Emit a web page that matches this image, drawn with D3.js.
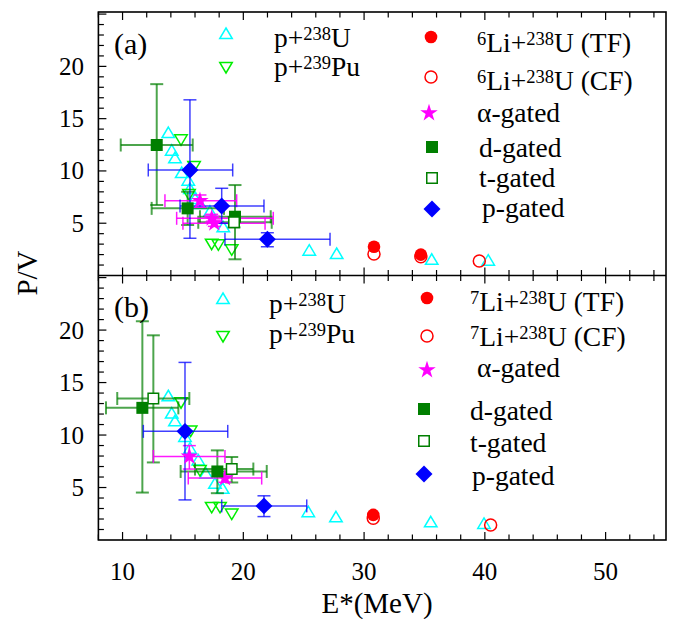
<!DOCTYPE html>
<html><head><meta charset="utf-8">
<script src="https://cdn.jsdelivr.net/npm/d3@7"></script>
<style>
body{margin:0;background:#fff}
svg{display:block}
svg text, svg tspan{font-family:"Liberation Serif","Times New Roman",Tinos,Times,serif !important;}
</style>
</head><body>
<svg id="c" width="675" height="619"></svg>
<script>
// ---------- data ----------
const xTicks = [10, 20, 30, 40, 50];
const yTicks = [5, 10, 15, 20];
// [E*, P/V]
const pU_a = [[13.79,13.53],[14.07,11.84],[14.34,11.11],[14.9,9.7],[15.44,8.97],[15.58,8.17],[16.0,7.22],[16.41,6.74],[17.24,6.0],[18.34,4.51],[25.46,2.28],[27.73,1.96],[35.6,1.41],[40.28,1.32]];
const pPu_a = [[14.84,13.12],[15.92,10.56],[15.5,7.88],[17.38,3.14],[17.93,3.08],[19.04,2.6]];
const liTF_a = [[30.82,2.75],[34.7,2.0]];
const liCF_a = [[30.82,2.06],[34.7,1.8],[39.54,1.39]];
// [E*, P/V, Elo, Ehi, PVlo, PVhi]
const alpha_a = [[16.41,7.15,13.51,19.45,6.52,7.7],[17.38,5.47,14.48,22.48,5.1,5.85],[17.6,5.0,15.0,21.8,4.7,5.3]];
const dgate_a = [[12.83,12.48,9.85,15.81,6.74,18.3],[15.39,6.42,12.41,18.4,4.83,8.01],[19.31,5.62,16.41,22.27,1.55,8.65]];
const tgate_a = [[19.23,5.09,16.27,22.35,4.6,5.6]];
const pgate_a = [[15.58,10.09,12.13,19.12,3.56,16.8],[18.21,6.64,14.76,21.71,4.99,8.34],[21.99,3.46,18.48,27.18,2.75,4.09]];

const pU_b = [[13.79,13.6],[14.07,11.95],[14.34,11.21],[15.17,9.72],[15.58,8.6],[16.27,7.49],[16.91,6.21],[17.65,5.26],[18.29,4.78],[25.38,2.55],[27.67,2.07],[35.52,1.59],[39.93,1.43]];
const pPu_b = [[14.84,13.22],[15.64,10.52],[16.41,6.76],[17.38,3.25],[18.07,3.25],[19.04,2.61]];
const liTF_b = [[30.76,2.39]];
const liCF_b = [[30.76,2.07],[40.48,1.43]];
const alpha_b = [[15.53,7.96,12.55,18.48,6.76,8.99],[18.48,5.9,15.44,21.52,5.5,6.3]];
const dgate_b = [[11.64,12.59,8.63,14.62,4.52,20.84],[17.85,6.53,14.81,21.94,4.46,8.54]];
const tgate_b = [[12.55,13.48,9.56,15.53,7.39,19.5],[19.04,6.76,16.0,20.83,5.48,7.91]];
const pgate_b = [[15.17,10.35,11.72,18.71,3.82,16.92],[21.71,3.25,18.21,25.25,2.23,4.21]];

// ---------- layout ----------
const FONT = '"Liberation Serif", "Times New Roman", Tinos, serif';
const svg = d3.select("#c");
const L = 98.4, R = 666, TOP = 12, MID = 275.5, BOT = 540;
const x = d3.scaleLinear().domain([8, 55]).range([L, R]);
const ya = d3.scaleLinear().domain([0, 25.2]).range([MID, TOP]);
const yb = d3.scaleLinear().domain([0, 25.2]).range([BOT, MID]);

const C = {cyan:"#00ffff", lime:"#00ee00", red:"#ff0000", mag:"#ff00ff", green:"#007f00", blue:"#0000ff"};

function txt(xp, yp, size){
  return svg.append("text").attr("x", xp).attr("y", yp).attr("font-size", size)
    .attr("font-family", FONT).style("font-family", FONT).attr("fill", "#000");
}

function triPath(w, h, down){
  const s = down ? -1 : 1;
  return `M0,${-s*h*2/3}L${w/2},${s*h/3}L${-w/2},${s*h/3}Z`;
}
const starPath = d3.symbol(d3.symbolStar, 95)();
const sqPath = d3.symbol(d3.symbolSquare, 144)();

function drawMarker(g, kind, cx, cy){
  const t = `translate(${cx},${cy})`;
  if (kind === "pU") g.append("path").attr("d", triPath(12.5,10.5,false)).attr("transform",t).attr("fill","none").attr("stroke",C.cyan).attr("stroke-width",1.5);
  else if (kind === "pPu") g.append("path").attr("d", triPath(12.5,10.5,true)).attr("transform",t).attr("fill","none").attr("stroke",C.lime).attr("stroke-width",1.5);
  else if (kind === "TF") g.append("circle").attr("cx",cx).attr("cy",cy).attr("r",6.3).attr("fill",C.red);
  else if (kind === "CF") g.append("circle").attr("cx",cx).attr("cy",cy).attr("r",6).attr("fill","none").attr("stroke",C.red).attr("stroke-width",1.5);
  else if (kind === "alpha") g.append("path").attr("d", starPath).attr("transform",t).attr("fill",C.mag);
  else if (kind === "d") g.append("path").attr("d", sqPath).attr("transform",t).attr("fill",C.green);
  else if (kind === "t") g.append("path").attr("d", d3.symbol(d3.symbolSquare, 110)()).attr("transform",t).attr("fill","#fff").attr("stroke",C.green).attr("stroke-width",1.5);
  else if (kind === "p") g.append("path").attr("d", sqPath).attr("transform",t+" rotate(45)").attr("fill",C.blue);
}

function errBars(g, data, y, color, w, op){
  const cap = 6.5;
  data.forEach(d => {
    const cx = x(d[0]), cy = y(d[1]);
    const x1 = x(d[2]), x2 = x(d[3]), y1 = y(d[4]), y2 = y(d[5]);
    const e = g.append("g").attr("stroke", color).attr("stroke-width", w).attr("stroke-opacity", op);
    e.append("line").attr("x1",x1).attr("x2",x2).attr("y1",cy).attr("y2",cy);
    e.append("line").attr("x1",x1).attr("x2",x1).attr("y1",cy-cap).attr("y2",cy+cap);
    e.append("line").attr("x1",x2).attr("x2",x2).attr("y1",cy-cap).attr("y2",cy+cap);
    e.append("line").attr("x1",cx).attr("x2",cx).attr("y1",y1).attr("y2",y2);
    e.append("line").attr("x1",cx-cap).attr("x2",cx+cap).attr("y1",y1).attr("y2",y1);
    e.append("line").attr("x1",cx-cap).attr("x2",cx+cap).attr("y1",y2).attr("y2",y2);
  });
}

function panel(y, sets){
  const g = svg.append("g");
  sets.pU.forEach(d => drawMarker(g, "pU", x(d[0]), y(d[1])));
  sets.pPu.forEach(d => drawMarker(g, "pPu", x(d[0]), y(d[1])));
  sets.TF.forEach(d => drawMarker(g, "TF", x(d[0]), y(d[1])));
  sets.CF.forEach(d => drawMarker(g, "CF", x(d[0]), y(d[1])));
  errBars(g, sets.d, y, C.green, 2, 0.7);
  errBars(g, sets.t, y, C.green, 2, 0.7);
  errBars(g, sets.alpha, y, C.mag, 1.5, 0.9);
  errBars(g, sets.p, y, C.blue, 1.5, 0.75);
  sets.alpha.forEach(d => drawMarker(g, "alpha", x(d[0]), y(d[1])));
  sets.d.forEach(d => drawMarker(g, "d", x(d[0]), y(d[1])));
  sets.t.forEach(d => drawMarker(g, "t", x(d[0]), y(d[1])));
  sets.p.forEach(d => drawMarker(g, "p", x(d[0]), y(d[1])));
}

panel(ya, {pU:pU_a, pPu:pPu_a, TF:liTF_a, CF:liCF_a, alpha:alpha_a, d:dgate_a, t:tgate_a, p:pgate_a});
panel(yb, {pU:pU_b, pPu:pPu_b, TF:liTF_b, CF:liCF_b, alpha:alpha_b, d:dgate_b, t:tgate_b, p:pgate_b});

// ---------- axes ----------
const minorX = d3.range(8, 55.01, 2);
const minorY = d3.range(1, 25.01, 1);
function axesFor(y, top, bottom){
  const g = svg.append("g").attr("stroke","#000").attr("stroke-width",1.2);
  minorX.forEach(v => {
    const len = (v % 10 === 0) ? 8 : 5.5;
    g.append("line").attr("x1",x(v)).attr("x2",x(v)).attr("y1",bottom).attr("y2",bottom-len);
    g.append("line").attr("x1",x(v)).attr("x2",x(v)).attr("y1",top).attr("y2",top+len);
  });
  minorY.forEach(v => {
    const len = (v % 5 === 0) ? 8 : 5.5;
    g.append("line").attr("x1",L).attr("x2",L+len).attr("y1",y(v)).attr("y2",y(v));
  });
  yTicks.forEach(v => {
    txt(84, y(v), 25).attr("dy","0.34em").attr("text-anchor","end").text(v);
  });
}
axesFor(ya, TOP, MID);
axesFor(yb, MID, BOT);
svg.append("rect").attr("x",L).attr("y",TOP).attr("width",R-L).attr("height",BOT-TOP).attr("fill","none").attr("stroke","#000").attr("stroke-width",1.6);
svg.append("line").attr("x1",L).attr("x2",R).attr("y1",MID).attr("y2",MID).attr("stroke","#000").attr("stroke-width",1.6);

xTicks.forEach(v => {
  txt(x(v), 580, 25).attr("text-anchor","middle").text(v);
});
txt(377, 613, 29).attr("text-anchor","middle").text("E*(MeV)");
txt(0, 0, 29).attr("transform","translate(37,273) rotate(-90)").attr("text-anchor","middle").text("P/V");

txt(114, 54, 30).text("(a)");
txt(114, 317, 30).text("(b)");

// ---------- legends ----------
function richText(xp, yp, parts){
  const t = txt(xp, yp, 27.5);
  parts.forEach(p => {
    if (p.sup) t.append("tspan").attr("font-size",18.5).attr("baseline-shift","38%").text(p.sup);
    else t.append("tspan").text(p.t);
  });
}
const legA = [
  {k:"pU", mx:226, my:35, tx:274, ty:47, parts:[{t:"p+"},{sup:"238"},{t:"U"}]},
  {k:"pPu", mx:226, my:66, tx:274, ty:76, parts:[{t:"p+"},{sup:"239"},{t:"Pu"}]},
  {k:"TF", mx:431, my:37, tx:477, ty:52, parts:[{sup:"6"},{t:"Li+"},{sup:"238"},{t:"U (TF)"}]},
  {k:"CF", mx:431, my:77, tx:477, ty:90, parts:[{sup:"6"},{t:"Li+"},{sup:"238"},{t:"U (CF)"}]},
  {k:"alpha", mx:429, my:113, tx:477, ty:122, parts:[{t:"α-gated"}]},
  {k:"d", mx:432, my:147, tx:479, ty:157, parts:[{t:"d-gated"}]},
  {k:"t", mx:432, my:178, tx:479, ty:187, parts:[{t:"t-gated"}]},
  {k:"p", mx:432, my:209, tx:482, ty:217, parts:[{t:"p-gated"}]}
];
const legB = [
  {k:"pU", mx:223, my:300, tx:269, ty:313, parts:[{t:"p+"},{sup:"238"},{t:"U"}]},
  {k:"pPu", mx:223, my:335, tx:269, ty:343, parts:[{t:"p+"},{sup:"239"},{t:"Pu"}]},
  {k:"TF", mx:427, my:298, tx:470, ty:311, parts:[{sup:"7"},{t:"Li+"},{sup:"238"},{t:"U (TF)"}]},
  {k:"CF", mx:427, my:336, tx:470, ty:346, parts:[{sup:"7"},{t:"Li+"},{sup:"238"},{t:"U (CF)"}]},
  {k:"alpha", mx:427, my:370, tx:477, ty:377, parts:[{t:"α-gated"}]},
  {k:"d", mx:424, my:409, tx:470, ty:420, parts:[{t:"d-gated"}]},
  {k:"t", mx:424, my:441, tx:470, ty:452, parts:[{t:"t-gated"}]},
  {k:"p", mx:424, my:474, tx:472, ty:485, parts:[{t:"p-gated"}]}
];
const lg = svg.append("g");
legA.concat(legB).forEach(e => {
  drawMarker(lg, e.k, e.mx, e.my);
  richText(e.tx, e.ty, e.parts);
});
</script>
</body></html>
